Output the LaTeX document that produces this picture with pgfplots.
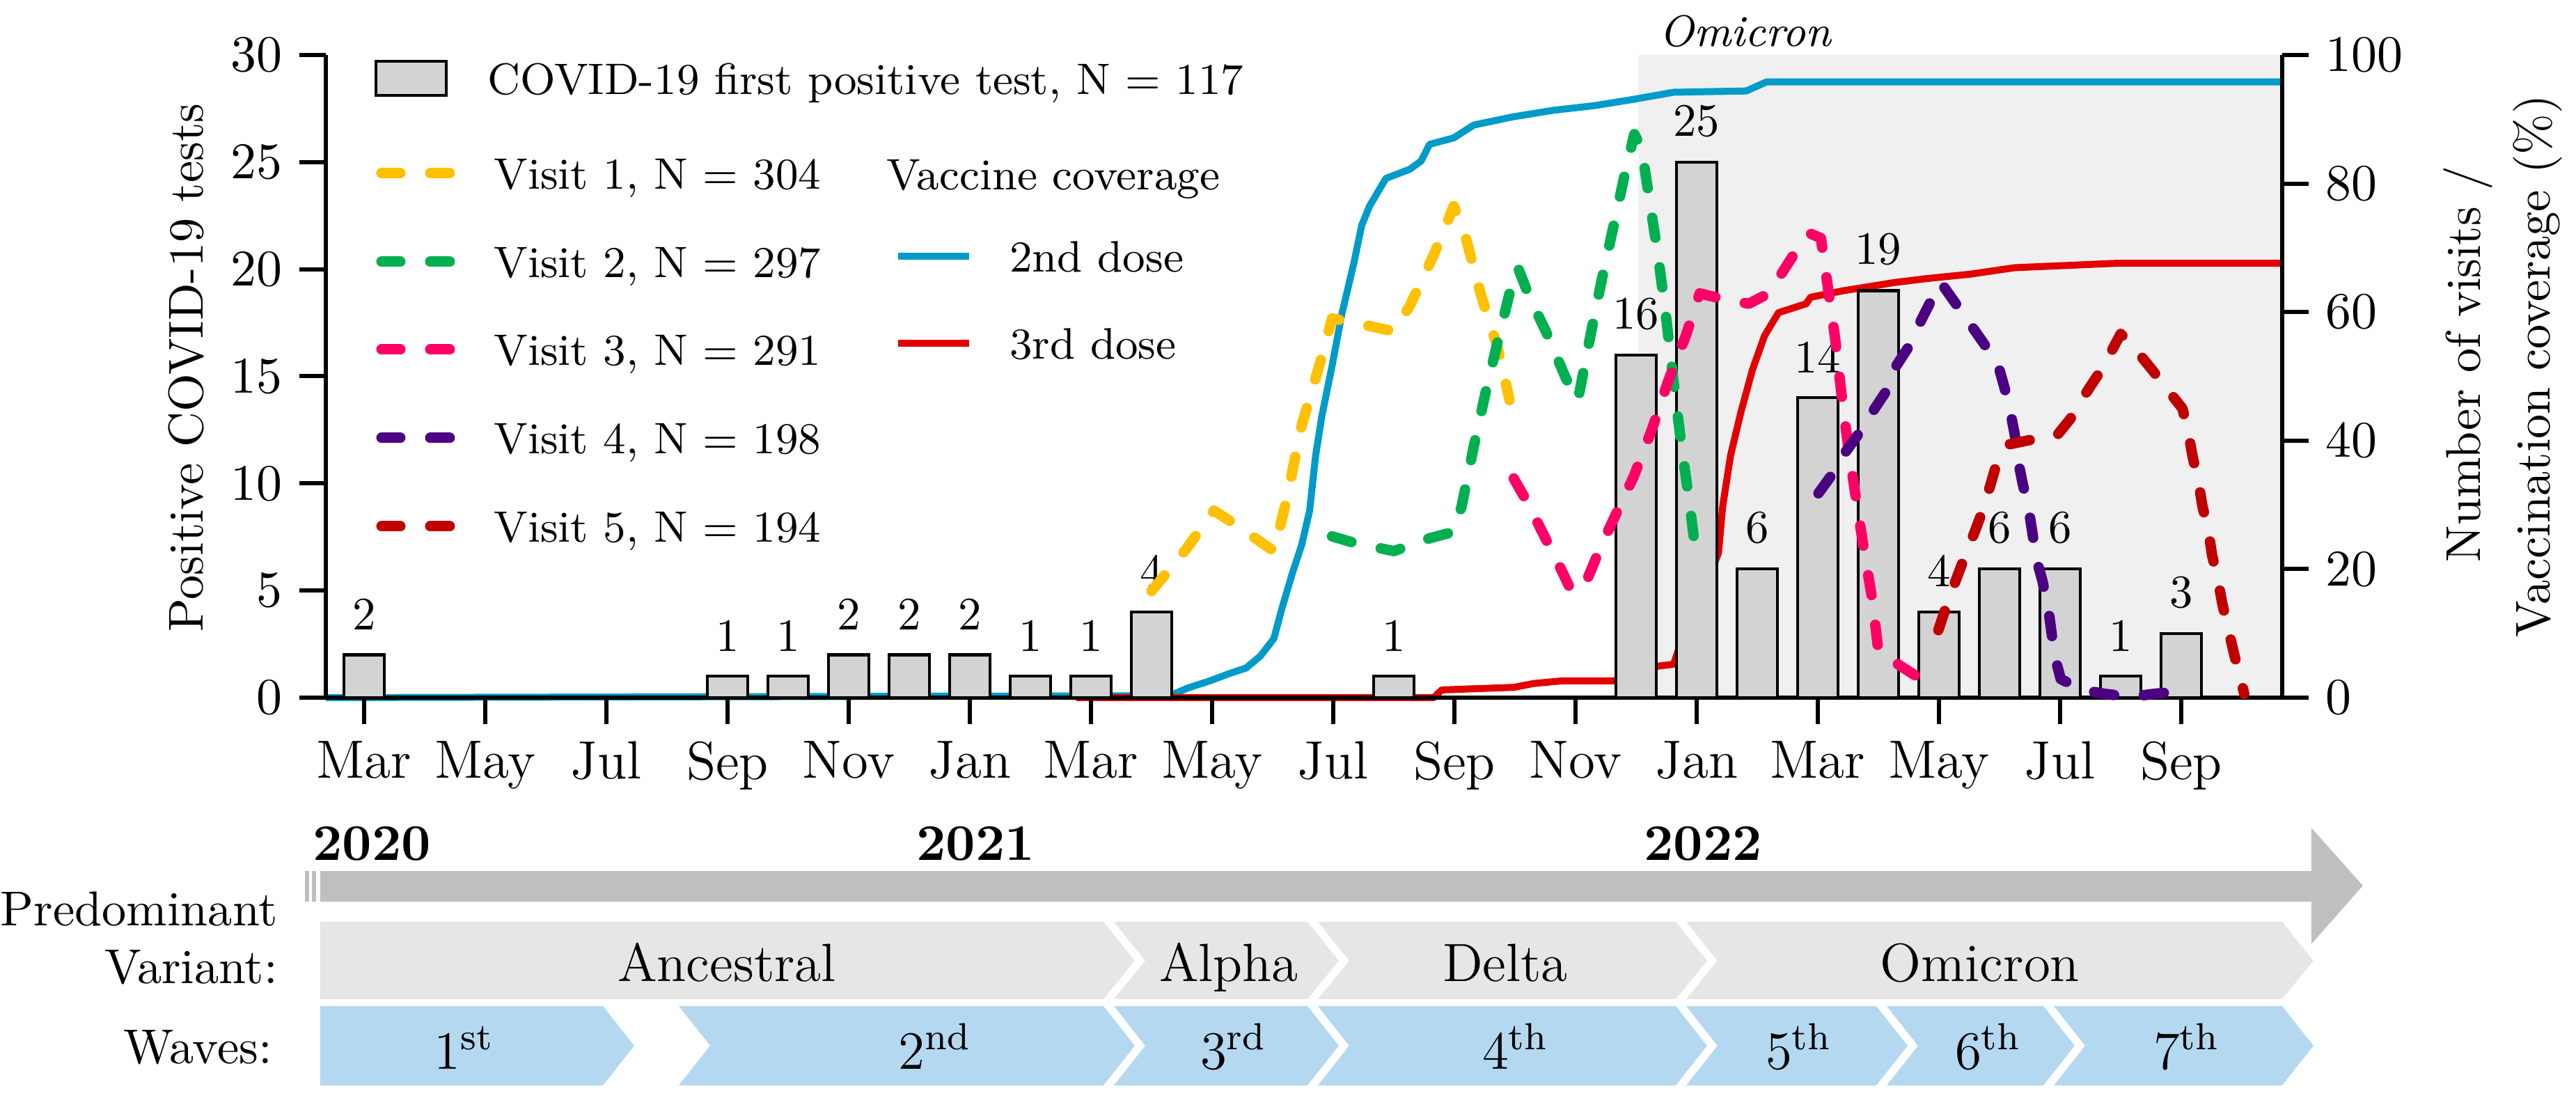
\documentclass[border=0pt]{standalone}
\usepackage{fontspec}
\usepackage{pgfplots}
\pgfplotsset{compat=1.18}

\definecolor{visitA}{RGB}{255,192,0}
\definecolor{visitB}{RGB}{0,176,80}
\definecolor{visitC}{RGB}{255,0,102}
\definecolor{visitD}{RGB}{75,0,130}
\definecolor{visitE}{RGB}{192,0,0}
\definecolor{doseB}{RGB}{0,155,200}
\definecolor{doseC}{RGB}{226,0,0}
\definecolor{barfill}{RGB}{211,211,211}
\definecolor{omishade}{RGB}{240,240,240}
\definecolor{arrowgray}{RGB}{191,191,191}
\definecolor{variantgray}{RGB}{230,230,230}
\definecolor{wavesblue}{RGB}{180,216,240}

\newcommand{\fsA}{\fontsize{9}{11}\selectfont}
\newcommand{\fsB}{\fontsize{10}{12}\selectfont}
\newcommand{\fsC}{\fontsize{11}{13}\selectfont}

\pgfplotsset{
  base/.style={
    scale only axis, width=140.5mm, height=46.15mm,
    at={(0,0)}, anchor=south west,
    xmin=1.368, xmax=33.667,
    tick align=outside, major tick length=1.9mm,
    every tick/.append style={black, line width=0.85pt},
    axis line style={-, black, line width=0.85pt},
    /pgf/number format/assume math mode=true,
    yticklabel style={font=\fontsize{10.5}{12}\selectfont},
    xticklabel style={font=\fsC},
  },
  visit/.style={line width=0.75mm, dash pattern=on 1.45mm off 2.15mm, line cap=round, line join=round},
  dose/.style={line width=0.5mm, line join=round},
}

\begin{document}
\begin{tikzpicture}
\path[use as bounding box] (-23.4mm,-28.75mm) rectangle (161.6mm,50.1mm);

% Omicron period and vaccine coverage (drawn behind the bars)
\begin{axis}[base, ymin=0, ymax=100, hide axis, clip=false]
  \fill[omishade] (axis cs:23.034,0) rectangle (axis cs:33.667,100);
  % 2nd dose
  \addplot[dose, doseB] coordinates {
    (1.368,0) (15.3,0.3) (15.6,1.5) (15.96,2.6) (16.3,3.8) (16.56,4.6)
    (16.8,6.5) (17.02,9.2) (17.15,13.8) (17.32,19.2) (17.48,23.8) (17.61,29.1)
    (17.71,37.7) (17.81,43.7) (17.98,51.6) (18.14,59.6) (18.34,67.6) (18.47,73.5)
    (18.60,76.5) (18.87,80.8) (19.26,82.2) (19.45,83.5) (19.59,86.1) (19.99,87.1)
    (20.32,89.1) (20.98,90.4) (21.64,91.4) (22.30,92.1) (22.96,93.1) (23.62,94.2)
    (24.82,94.4) (25.15,95.8) (33.667,95.8)
  };
  % 3rd dose
  \addplot[dose, doseC] coordinates {
    (13.76,0) (19.66,0) (19.79,1.2) (20.98,1.6) (21.31,2.2) (21.77,2.6)
    (22.70,2.6) (23.36,4.9) (23.62,5.2) (23.69,7.2) (24.0,14) (24.36,22.5)
    (24.43,29.8) (24.56,37.7) (24.73,44.4) (24.92,51.0) (25.12,56.3) (25.35,59.9)
    (25.81,61.3) (25.88,62.3) (26.41,63.3) (27.27,64.6) (27.79,65.2) (28.52,65.9)
    (29.25,66.9) (30.96,67.6) (33.667,67.6)
  };
\end{axis}

% first positive tests per month
\begin{axis}[base, ymin=0, ymax=30,
  axis x line*=bottom, axis y line*=left,
  ytick={0,5,...,30},
  xtick={2,4,...,32},
  xticklabels={Mar,May,Jul,Sep,Nov,Jan,Mar,May,Jul,Sep,Nov,Jan,Mar,May,Jul,Sep},
  ybar, bar width=0.66,
  nodes near coords,
  every node near coord/.append style={font=\fontsize{9.5}{11}\selectfont, black, yshift=1.5pt},
  clip=false,
]
  \addplot[fill=barfill, draw=black, line width=0.6pt] coordinates {
    (2,2) (8,1) (9,1) (10,2) (11,2) (12,2) (13,1) (14,1) (15,4) (19,1)
    (23,16) (24,25) (25,6) (26,14) (27,19) (28,4) (29,6) (30,6) (31,1) (32,3)
  };
\end{axis}

% visits
\begin{axis}[base, ymin=0, ymax=100,
  axis y line*=right, axis x line=none,
  ytick={0,20,...,100}, clip=false]
  \addplot[visit, visitA] coordinates {
    (15.0,16.6) (15.3,20.0) (15.57,23.1) (16.03,29.1) (16.36,27.1) (17.02,22.8)
    (17.22,30.4) (17.48,42.4) (17.81,53.0) (17.98,59.0) (18.21,58.6) (19.0,57.0)
    (19.26,60.9) (19.66,68.9) (19.99,76.5) (20.19,71.5) (20.45,62.3) (20.72,54.3)
    (20.91,46.3)
  };
  \addplot[visit, visitB] coordinates {
    (17.98,25.1) (18.34,24.1) (19.0,22.8) (19.59,24.8) (19.99,25.8) (20.12,29.8)
    (20.32,39.1) (20.52,47.7) (20.72,55.6) (20.91,62.9) (21.05,66.9) (21.24,62.3)
    (21.51,57.0) (21.84,49.7) (22.04,46.3) (22.23,55.6) (22.43,64.9) (22.63,73.5)
    (22.83,82.2) (22.97,87.7) (23.09,85.5) (23.22,77.5) (23.36,68.9) (23.49,59.6)
    (23.62,49.0) (23.75,39.1) (23.88,30.4) (24.0,21.3)
  };
  \addplot[visit, visitC] coordinates {
    (20.98,34.1) (21.18,30.8) (21.38,27.1) (21.54,24.1) (21.77,19.8) (21.90,17.2)
    (22.0,16.5) (22.14,17.2) (22.43,23.8) (22.96,34.4) (23.26,41.7) (23.52,49.0)
    (23.82,56.3) (24.05,62.9) (24.49,61.9) (24.86,61.3) (25.19,62.9) (25.62,69.2)
    (25.88,72.2) (26.05,71.5) (26.11,67.6) (26.21,60.9) (26.28,56.3) (26.41,45.7)
    (26.51,38.4) (26.64,30.4) (26.77,22.5) (26.9,15.2) (27.0,7.2) (27.37,4.9)
    (27.7,2.9)
  };
  \addplot[visit, visitD] coordinates {
    (26.01,31.8) (26.21,34.4) (26.47,38.4) (26.67,41.0) (26.94,45.0) (27.13,47.7)
    (27.3,51.7) (27.5,54.6) (27.7,58.6) (27.86,61.6) (28.03,64.6) (28.3,61.0)
    (28.6,57.0) (28.97,52.0) (29.08,48.3) (29.18,44.4) (29.25,41.0) (29.31,36.7)
    (29.38,33.4) (29.48,29.4) (29.54,25.8) (29.61,21.5) (29.71,18.1) (29.81,13.5)
    (29.91,6.5) (30.01,2.9) (30.37,1.2) (30.73,0.6) (31.16,0.1) (31.56,0.6)
    (32.02,1.0)
  };
  \addplot[visit, visitE] coordinates {
    (27.99,10.5) (28.12,14.2) (28.26,17.8) (28.42,21.8) (28.59,25.8) (28.72,29.1)
    (28.85,33.1) (28.95,36.4) (29.15,39.4) (29.51,40.1) (29.94,40.7) (30.17,43.4)
    (30.40,47.0) (30.63,50.3) (30.83,53.6) (31.0,56.6) (31.26,54.0) (31.52,51.0)
    (31.79,47.7) (32.02,45.0) (32.12,41.0) (32.19,37.4) (32.28,33.7) (32.35,29.8)
    (32.45,25.8) (32.51,22.1) (32.61,18.1) (32.68,14.5) (32.78,10.5) (32.88,6.5)
    (32.98,2.9) (33.04,0.6)
  };
\end{axis}

% labels, legend and the timeline below, in pixel units of the reference
\begin{scope}[x=0.05mm, y=-0.05mm, shift={(-23.4mm,50.1mm)}]
  % axis titles
  \node[rotate=90, anchor=base, font=\fsB] at (292,528) {Positive COVID-19 tests};
  \node[rotate=90, anchor=base, font=\fsB] at (3563,523) {Number of visits /};
  \node[rotate=90, anchor=base, font=\fsB] at (3663,526) {Vaccination coverage (\%)};
  \node[anchor=base west, font=\fsA\itshape, inner sep=0pt] at (2382,67) {Omicron};

  % legend
  \draw[fill=barfill, line width=0.6pt] (540,88) rectangle (641,137);
  \node[anchor=base west, font=\fsA, inner sep=0pt] at (699,136) {COVID-19 first positive test, N = 117};
  \foreach \yy/\cc/\tt in {249/visitA/{Visit 1, N = 304}, 376/visitB/{Visit 2, N = 297},
                           502/visitC/{Visit 3, N = 291}, 629/visitD/{Visit 4, N = 198},
                           756/visitE/{Visit 5, N = 194}} {
    \draw[\cc, line width=0.75mm, line cap=round] (548,\yy) -- (575,\yy);
    \draw[\cc, line width=0.75mm, line cap=round] (618,\yy) -- (646,\yy);
    \node[anchor=base west, font=\fsA, inner sep=0pt] at (708,\yy+23) {\tt};
  }
  \node[anchor=base west, font=\fsA, inner sep=0pt] at (1272,273) {Vaccine coverage};
  \draw[doseB, line width=0.5mm] (1290,368) -- (1392,368);
  \node[anchor=base west, font=\fsA, inner sep=0pt] at (1449,391) {2nd dose};
  \draw[doseC, line width=0.5mm] (1290,493) -- (1392,493);
  \node[anchor=base west, font=\fsA, inner sep=0pt] at (1449,516) {3rd dose};

  % years and time arrow
  \node[anchor=base west, font=\fontsize{10.5}{12}\selectfont\bfseries, inner sep=0pt] at (448,1236) {2020};
  \node[anchor=base west, font=\fontsize{10.5}{12}\selectfont\bfseries, inner sep=0pt] at (1315,1236) {2021};
  \node[anchor=base west, font=\fontsize{10.5}{12}\selectfont\bfseries, inner sep=0pt] at (2360,1236) {2022};
  \fill[arrowgray] (460,1251) rectangle (3320,1295);
  \fill[arrowgray] (3320,1189) -- (3394,1272) -- (3320,1356) -- cycle;
  \fill[arrowgray] (438,1251) rectangle (444,1295);
  \fill[arrowgray] (448,1251) rectangle (454,1295);

  % predominant variant
  \node[anchor=base east, font=\fsB, inner sep=0pt] at (400,1330) {Predominant};
  \node[anchor=base east, font=\fsB, inner sep=0pt] at (400,1413) {Variant:};
  \fill[variantgray] (460,1324) -- (1585,1324) -- (1630,1380) -- (1585,1435) -- (460,1435) -- cycle;
  \foreach \l/\r in {1600/1878, 1893/2407, 2422/3278}
    \fill[variantgray] (\l,1324) -- (\r,1324) -- (\r+45,1380) -- (\r,1435) -- (\l,1435) -- (\l+45,1380) -- cycle;
  \foreach \xx/\tt in {1044/Ancestral, 1765/Alpha, 2162/Delta, 2844/Omicron}
    \node[anchor=base, font=\fsC, inner sep=0pt] at (\xx,1410) {\tt};

  % waves
  \node[anchor=base east, font=\fsB, inner sep=0pt] at (392,1528) {Waves:};
  \fill[wavesblue] (460,1445) -- (866,1445) -- (911,1502) -- (866,1559) -- (460,1559) -- cycle;
  \foreach \l/\r in {975/1585, 1600/1878, 1893/2407, 2422/2695, 2710/2935, 2950/3278}
    \fill[wavesblue] (\l,1445) -- (\r,1445) -- (\r+45,1502) -- (\r,1559) -- (\l,1559) -- (\l+45,1502) -- cycle;
  \foreach \xx/\nn/\ss in {667/1/st, 1343/2/nd, 1772/3/rd, 2177/4/th, 2584/5/th, 2856/6/th, 3141/7/th}
    \node[anchor=base, font=\fsC, inner sep=0pt] at (\xx,1536) {\nn\textsuperscript{\ss}};
\end{scope}
\end{tikzpicture}
\end{document}
